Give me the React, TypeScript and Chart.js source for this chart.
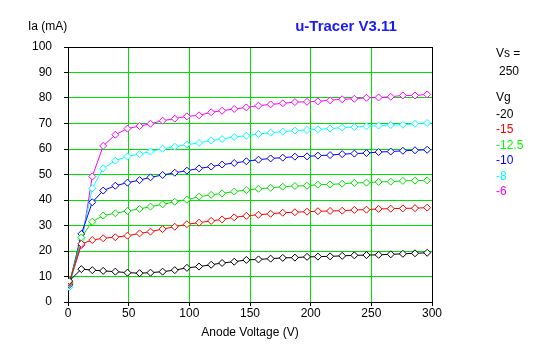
import React, { useEffect, useRef } from "react";
import { Chart, registerables } from "chart.js";

Chart.register(...registerables);

const anodeVolts = [1, 11, 20, 29, 39, 49, 59, 68, 78, 88, 98, 108, 118, 127, 137, 147, 157, 167, 177, 187, 197, 206, 216, 226, 236, 246, 256, 266, 276, 286, 296];

const ia_m20 = [8.2, 12.9, 12.5, 12.2, 11.9, 11.5, 11.3, 11.5, 11.9, 12.5, 13.4, 13.9, 14.6, 15.3, 15.8, 16.5, 16.7, 17.0, 17.3, 17.4, 17.7, 17.8, 17.9, 18.1, 18.3, 18.4, 18.5, 18.7, 18.9, 19.1, 19.3];
const ia_m15 = [7.6, 22.8, 24.3, 25.0, 25.4, 26.0, 26.9, 27.6, 28.6, 29.5, 30.5, 31.1, 31.8, 32.4, 33.2, 33.8, 34.2, 34.6, 35.0, 35.2, 35.4, 35.6, 35.7, 35.8, 36.1, 36.2, 36.5, 36.6, 36.7, 36.8, 37.0];
const ia_m12_5 = [7.3, 25.3, 31.5, 33.9, 34.8, 35.7, 36.5, 37.4, 38.3, 39.3, 40.1, 41.3, 42.0, 42.6, 43.3, 43.9, 44.4, 44.8, 45.2, 45.5, 45.6, 46.0, 46.1, 46.4, 46.7, 46.8, 47.1, 47.2, 47.5, 47.6, 47.7];
const ia_m10 = [6.7, 26.7, 39.1, 43.7, 45.6, 46.8, 47.8, 48.9, 49.8, 50.7, 51.5, 52.4, 53.1, 53.9, 54.5, 55.2, 55.8, 56.3, 56.6, 57.0, 57.1, 57.4, 57.6, 58.0, 58.2, 58.4, 58.8, 59.0, 59.3, 59.5, 59.7];
const ia_m8 = [5.8, 24.5, 44.6, 52.4, 55.4, 57.1, 58.0, 59.0, 60.1, 60.9, 61.7, 62.4, 63.3, 63.9, 64.7, 65.2, 65.9, 66.4, 66.8, 67.2, 67.5, 67.7, 68.0, 68.4, 68.6, 68.9, 69.2, 69.4, 69.5, 69.9, 70.2];
const ia_m6 = [7.0, 22.3, 49.2, 61.2, 65.6, 68.0, 69.0, 69.9, 71.1, 71.9, 72.8, 73.2, 74.4, 75.0, 75.7, 76.3, 77.0, 77.5, 77.9, 78.4, 78.5, 78.7, 79.1, 79.5, 79.7, 80.1, 80.2, 80.5, 81.0, 81.0, 81.4];

const vgLabels = ["-20", "-15", "-12.5", "-10", "-8", "-6"];
const seriesValues = [ia_m20, ia_m15, ia_m12_5, ia_m10, ia_m8, ia_m6];
const seriesColors = ["#000000", "#ff0000", "#00e000", "#0000ff", "#00ffff", "#ff00ff"];
const legendColors = ["#000000", "#ff0000", "#00ff00", "#0000ff", "#00ffff", "#ff00ff"];

const titleText = "u-Tracer V3.11";
const yAxisTitle = "Ia (mA)";
const xAxisTitle = "Anode Voltage (V)";
const screenVoltLabel = "Vs =";
const screenVoltValue = "250";
const gridVoltLabel = "Vg";

const FONT = '"Liberation Sans", Arial, sans-serif';

export default function App() {
  const ref = useRef<HTMLCanvasElement | null>(null);

  useEffect(() => {
    document.body.style.margin = "0";
    const canvas = ref.current;
    if (!canvas) return;

    const textPlugin = {
      id: "textPlugin",
      beforeDatasetsDraw(chart: any) {
        const { ctx, chartArea } = chart;
        ctx.save();
        ctx.strokeStyle = "#000";
        ctx.lineWidth = 1;
        ctx.strokeRect(
          Math.round(chartArea.left) + 0.5,
          Math.round(chartArea.top) + 0.5,
          Math.round(chartArea.right - chartArea.left),
          Math.round(chartArea.bottom - chartArea.top)
        );
        ctx.restore();
      },
      afterDraw(chart: any) {
        const { ctx } = chart;
        ctx.save();
        ctx.textBaseline = "middle";
        ctx.font = `12px ${FONT}`;
        ctx.fillStyle = "#000";
        ctx.textAlign = "left";
        ctx.fillText(yAxisTitle, 28, 27);
        ctx.textAlign = "center";
        ctx.fillText(xAxisTitle, 250, 333);

        ctx.font = `bold 15px ${FONT}`;
        ctx.fillStyle = "#1a1aff";
        ctx.fillText(titleText, 346, 27);

        ctx.font = `12px ${FONT}`;
        ctx.textAlign = "left";
        ctx.fillStyle = "#000";
        ctx.fillText(screenVoltLabel, 496, 54);
        ctx.fillText(screenVoltValue, 499, 72);
        ctx.fillText(gridVoltLabel, 496, 98);
        const ys = [115, 130, 146, 161, 177, 192];
        vgLabels.forEach((lab, i) => {
          ctx.fillStyle = legendColors[i];
          ctx.fillText(lab, 496, ys[i]);
        });
        ctx.restore();
      },
    };

    const chart = new Chart(canvas, {
      type: "line",
      data: {
        datasets: seriesValues.map((vals, i) => ({
          label: vgLabels[i],
          data: vals.map((y, j) => ({ x: anodeVolts[j], y })),
          borderColor: seriesColors[i],
          backgroundColor: "#ffffff",
          borderWidth: 1,
          pointStyle: "rectRot",
          pointRadius: 3.5,
          pointBorderWidth: 1,
          pointBorderColor: seriesColors[i],
          pointBackgroundColor: "#ffffff",
          tension: 0,
          fill: false,
        })),
      },
      options: {
        animation: false,
        responsive: false,
        events: [],
        layout: { padding: { left: 0, top: 47, right: 104, bottom: 0 } },
        plugins: {
          legend: { display: false },
          title: { display: false },
          tooltip: { enabled: false },
        },
        scales: {
          x: {
            type: "linear",
            min: 0,
            max: 300,
            ticks: {
              stepSize: 50,
              color: "#000",
              font: { family: FONT, size: 12 },
              padding: 0,
              maxRotation: 0,
            },
            grid: {
              color: "#00e000",
              lineWidth: 1,
              tickColor: "#000",
              tickLength: 4,
              drawTicks: true,
            },
            border: { color: "#000", width: 1 },
            afterFit(scale: any) {
              scale.height = 42;
            },
          },
          y: {
            min: 0,
            max: 100,
            ticks: {
              stepSize: 10,
              color: "#000",
              font: { family: FONT, size: 12 },
              padding: 12,
            },
            grid: {
              color: "#00e000",
              lineWidth: 1,
              tickColor: "#000",
              tickLength: 4,
              drawTicks: true,
            },
            border: { color: "#000", width: 1 },
            afterFit(scale: any) {
              scale.width = 68;
            },
          },
        },
      },
      plugins: [textPlugin],
    } as any);

    return () => chart.destroy();
  }, []);

  return <canvas ref={ref} width={536} height={344} style={{ display: "block" }} />;
}
